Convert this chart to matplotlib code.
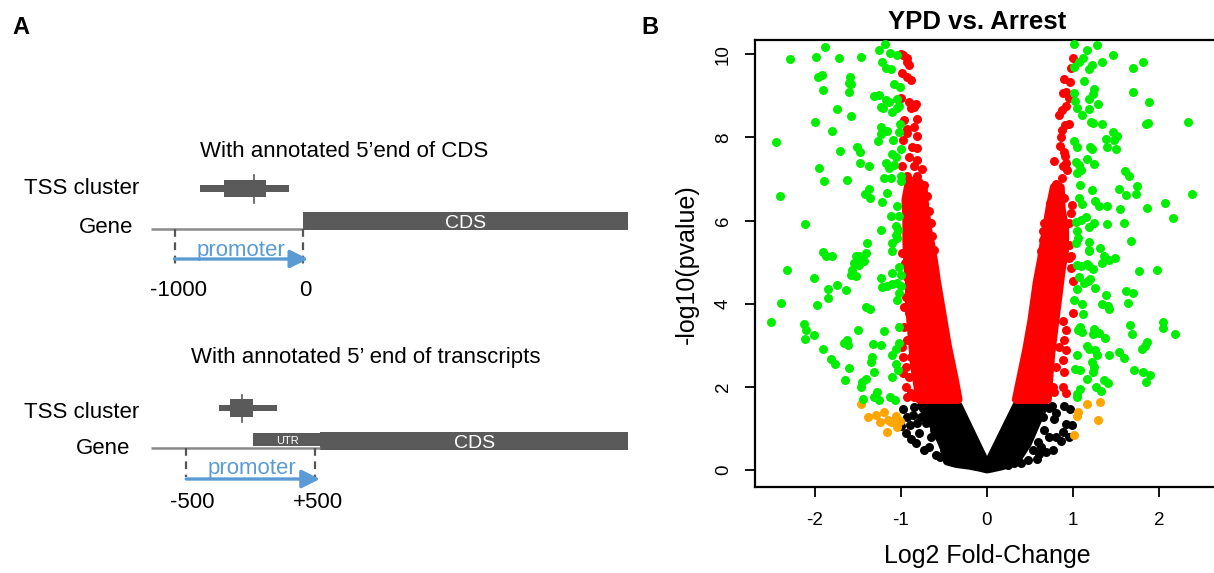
import matplotlib
matplotlib.use("Agg")
import matplotlib.pyplot as plt
from matplotlib.patches import Rectangle, Polygon

plt.rcParams['font.family'] = ['Liberation Sans', 'DejaVu Sans']
plt.rcParams['axes.unicode_minus'] = False

# ---------------- Panel A data (gene models, in bp) ----------------
top_title = "With annotated 5\u2019end of CDS"
top_gene_start = -1180
top_cds = (0, 2530)
top_promoter = (-1000, 0)
top_tss_thin = (-800, -110)
top_tss_thick = (-615, -290)
top_tss_peak = -380
top_tick_labels = ["-1000", "0"]

bot_title = "With annotated 5\u2019 end of transcripts"
bot_gene_start = -775
bot_utr = (20, 540)
bot_cds = (540, 2940)
bot_promoter = (-500, 500)
bot_tss_thin = (-245, 205)
bot_tss_thick = (-160, 20)
bot_tss_peak = -65
bot_tick_labels = ["-500", "+500"]

# ---------------- Panel B data (log2 fold-change, -log10 p) ----------------
green_points = [
    (-1.881, 10.18), (-1.186, 10.25), (-2.287, 9.89), (-1.985, 9.92), (-1.711, 9.90), (-1.464, 9.93),
    (-1.255, 10.09), (-1.128, 10.02), (-1.039, 9.98), (-1.213, 9.82), (-1.174, 9.66), (-1.116, 9.64),
    (-1.958, 9.44), (-1.908, 9.50), (-1.587, 9.45), (-1.595, 9.30), (-1.572, 9.28), (-1.603, 9.09),
    (-1.896, 9.14), (-1.078, 9.28), (-1.008, 9.22), (-1.309, 9.00), (-1.251, 9.02), (-1.174, 8.90),
    (-1.136, 8.86), (-1.039, 8.93), (-1.232, 8.74), (-1.201, 8.70), (-1.097, 8.60), (-1.039, 8.70),
    (-1.020, 8.76), (-1.742, 8.69), (-1.580, 8.52), (-1.997, 8.37), (-1.796, 8.16), (-1.232, 8.26),
    (-1.155, 8.16), (-1.224, 8.08), (-1.008, 8.31), (-1.016, 8.13), (-2.449, 7.89), (-1.259, 7.91),
    (-1.089, 7.94), (-1.707, 7.68), (-1.503, 7.76), (-1.472, 7.64), (-1.097, 7.60), (-1.058, 7.54),
    (-1.000, 7.72), (-1.951, 7.26), (-1.472, 7.39), (-1.367, 7.32), (-1.174, 7.38), (-1.136, 7.26),
    (-1.078, 7.34), (-1.889, 6.95), (-1.626, 6.98), (-1.194, 7.02), (-1.116, 7.02), (-1.000, 7.06),
    (-1.000, 6.94), (-2.399, 6.60), (-1.367, 6.75), (-1.418, 6.63), (-1.356, 6.54), (-1.163, 6.66),
    (-1.213, 6.44), (-1.039, 6.34), (-1.116, 6.12), (-1.020, 6.10), (-2.113, 5.92), (-1.232, 5.78),
    (-1.058, 5.86), (-1.031, 5.78), (-1.058, 5.66), (-1.039, 5.58), (-1.097, 5.46), (-1.394, 5.47),
    (-1.900, 5.24), (-1.869, 5.14), (-1.792, 5.16), (-1.522, 5.16), (-1.483, 5.14), (-1.406, 5.22),
    (-1.097, 5.26),
    (-2.321, 4.81), (-2.005, 4.62), (-1.839, 4.36), (-1.742, 4.44), (-1.638, 4.33), (-1.842, 4.13),
    (-1.966, 3.98), (-2.391, 4.02), (-2.499, 3.56), (-2.121, 3.51), (-2.101, 3.37), (-2.113, 3.15),
    (-2.005, 3.24), (-1.900, 2.92), (-1.804, 2.67), (-1.765, 2.56), (-1.657, 3.05), (-1.618, 3.13),
    (-1.607, 3.00), (-1.595, 2.45), (-1.645, 2.16), (-1.491, 3.36), (-1.406, 3.92), (-1.356, 3.87),
    (-1.194, 3.35), (-1.321, 3.03), (-1.228, 3.00), (-1.336, 2.73), (-1.348, 2.60), (-1.309, 2.36),
    (-1.445, 2.11), (-1.456, 2.01), (-1.398, 2.19), (-1.433, 1.71), (-1.309, 1.77), (-1.278, 1.87),
    (-1.255, 1.69), (-1.124, 1.77), (-1.070, 1.69), (-1.097, 2.25), (-1.027, 2.41), (-1.058, 2.56),
    (-1.105, 2.76), (-1.058, 2.92), (-1.020, 3.05), (-1.020, 3.44), (-1.039, 4.09), (-1.020, 4.26),
    (-1.000, 4.42), (-1.213, 4.40), (-1.155, 4.43), (-1.097, 4.47), (-1.039, 4.49), (-1.224, 4.61),
    (-1.097, 4.75), (-1.000, 4.70), (-1.016, 4.88), (-1.541, 4.98), (-1.560, 4.81), (-1.580, 4.69),
    (-1.518, 4.68), (-1.483, 4.94), (-1.445, 5.06), (-1.425, 5.02),
    (1.008, 10.25), (1.278, 10.22), (1.155, 10.10), (1.464, 9.97), (1.109, 9.90), (1.070, 9.82),
    (1.217, 9.74), (1.186, 9.64), (1.333, 9.80), (1.012, 9.69), (1.696, 9.66), (1.811, 9.81),
    (1.128, 9.36), (1.236, 9.16), (1.232, 9.05), (1.012, 9.07), (1.688, 9.09), (1.881, 8.86),
    (1.178, 8.92), (1.024, 8.88), (1.290, 8.81), (1.039, 8.71), (1.178, 8.68), (1.097, 8.53),
    (1.201, 8.37), (1.232, 8.35), (1.333, 8.31), (1.842, 8.33), (1.869, 8.34), (2.333, 8.38),
    (1.464, 8.13), (1.503, 8.04), (1.475, 7.94), (1.379, 7.96), (1.387, 7.78), (1.499, 7.73),
    (1.012, 7.91), (1.039, 7.78), (1.197, 7.78), (1.213, 7.72), (1.031, 7.41), (1.062, 7.33),
    (1.089, 7.22), (1.039, 7.14), (1.159, 7.49), (1.240, 7.36), (1.603, 7.19), (1.645, 7.06),
    (1.081, 6.86), (1.217, 6.74), (1.526, 6.77), (1.607, 6.62), (1.738, 6.82), (1.727, 6.64),
    (2.372, 6.65), (1.070, 6.54), (1.101, 6.39), (1.255, 6.48), (1.294, 6.35), (1.394, 6.34),
    (1.537, 6.28), (1.850, 6.30), (2.059, 6.42), (2.155, 6.07), (1.031, 5.97), (1.089, 6.02),
    (1.143, 6.08), (1.186, 5.85), (1.244, 5.94), (1.394, 5.92), (1.591, 5.95), (1.039, 5.74),
    (1.054, 5.58), (1.178, 5.49), (1.186, 5.30), (1.306, 5.34), (1.669, 5.51), (1.031, 5.45),
    (1.186, 5.27), (1.360, 5.14), (1.410, 5.06), (1.487, 5.10), (1.329, 4.99), (1.039, 4.94),
    (1.089, 4.90), (1.155, 4.96), (1.186, 4.90), (1.224, 4.84), (1.757, 4.78), (1.974, 4.81),
    (1.070, 4.64), (1.128, 4.49), (1.174, 4.55), (1.197, 4.59), (1.039, 4.35), (1.251, 4.37),
    (1.611, 4.30), (1.688, 4.27), (1.379, 4.20), (1.004, 4.09), (1.105, 3.99), (1.336, 3.99),
    (1.398, 3.95), (1.418, 3.87), (1.638, 4.01), (1.109, 3.75), (1.657, 3.50), (1.680, 3.27),
    (2.043, 3.56), (2.036, 3.41), (2.178, 3.28), (1.078, 3.44), (1.101, 3.33), (1.058, 3.38),
    (1.240, 3.40), (1.224, 3.27), (1.302, 3.29), (1.367, 3.19), (1.850, 3.08), (1.827, 2.98),
    (1.796, 2.92), (1.155, 2.99), (1.186, 2.92), (1.248, 2.89), (1.275, 2.76), (1.410, 2.76),
    (1.526, 2.84), (1.584, 2.69), (1.043, 2.76), (1.221, 2.59), (1.244, 2.49), (1.232, 2.36),
    (1.024, 2.43), (1.074, 2.40), (1.707, 2.41), (1.811, 2.36), (1.893, 2.30), (1.846, 2.11),
    (1.163, 2.20), (1.360, 2.16), (1.398, 2.09), (1.263, 2.01), (1.321, 1.91), (1.081, 1.95),
    (1.047, 1.83), (1.039, 1.77),
]

red_points = [
    (-1.000, 10.00), (-0.930, 9.90), (-0.969, 9.98), (-0.923, 9.82), (-0.904, 9.74), (-0.981, 9.54),
    (-0.923, 9.46), (-0.885, 9.38), (-0.993, 8.94), (-0.904, 8.86), (-0.885, 8.70), (-0.846, 8.74),
    (-0.827, 8.81), (-0.962, 8.42), (-0.807, 8.44), (-0.923, 8.20), (-0.846, 8.24), (-0.815, 8.04),
    (-0.969, 7.94), (-0.923, 8.10), (-0.865, 7.78), (-0.807, 7.74), (-0.904, 7.54), (-0.815, 7.46),
    (-0.981, 7.30), (-0.846, 7.30), (-0.749, 7.23), (-0.923, 7.06), (-0.807, 7.06), (-0.730, 6.86),
    (-0.691, 6.58), (-0.672, 6.22), (-0.653, 5.94), (-0.633, 5.62), (-0.614, 5.30),
    (-0.962, 3.45), (-0.923, 3.13), (-0.969, 2.73), (-0.885, 2.73), (-0.942, 2.49), (-0.969, 2.33),
    (-0.904, 2.25), (-0.942, 2.01), (-0.885, 1.85), (-0.931, 1.77), (-0.846, 1.77), (-0.981, 5.22),
    (-0.954, 4.98), (-0.923, 4.65), (-0.942, 4.17), (-0.962, 3.93), (-0.904, 3.77), (-0.980, 2.97),
    (-0.788, 2.13), (-0.711, 2.09),
    (0.993, 9.90), (0.973, 9.66), (0.896, 9.41), (0.966, 9.32), (0.877, 9.06), (0.915, 9.08),
    (0.954, 8.94), (0.915, 8.76), (0.869, 8.66), (0.838, 8.54), (0.954, 8.32), (0.908, 8.30),
    (0.869, 8.18), (0.857, 8.00), (0.846, 7.80), (0.896, 7.64), (0.904, 7.56), (0.780, 7.43),
    (0.880, 7.30), (0.931, 7.22), (0.911, 7.38), (0.869, 7.02), (0.800, 6.88), (0.784, 6.78),
    (0.838, 6.66), (0.896, 6.54), (0.730, 6.43), (0.742, 6.26), (0.985, 6.38), (0.973, 6.18),
    (0.761, 6.10), (0.664, 5.94), (0.800, 5.94), (0.645, 5.74), (0.954, 5.94), (0.838, 5.78),
    (0.877, 5.45), (0.653, 5.53), (0.800, 5.38), (0.954, 5.42), (0.626, 5.26), (0.973, 5.14),
    (0.993, 4.54), (1.000, 3.79), (0.877, 3.59), (0.915, 3.37), (0.896, 3.13), (0.838, 2.97),
    (0.915, 2.89), (0.877, 2.65), (0.800, 2.49), (0.896, 2.37), (0.761, 2.01), (0.885, 2.01),
    (0.780, 1.89), (0.915, 1.85), (0.954, 5.10), (0.973, 4.85),
]

black_points = [
    (-0.969, 1.47), (-0.923, 1.29), (-0.892, 1.09), (-0.993, 1.06), (-0.807, 1.13), (-0.854, 1.33),
    (-0.769, 1.27), (-0.942, 0.90), (-0.885, 0.74), (-0.827, 0.65), (-0.788, 0.90), (-0.711, 1.13),
    (-0.730, 0.49), (-0.672, 0.57), (-0.653, 0.81), (-0.595, 0.37), (-0.545, 0.33), (-0.614, 0.97),
    (-0.498, 0.49), (-0.452, 0.25), (-0.653, 1.37), (-0.537, 1.45), (-0.730, 1.53), (-0.846, 1.53),
    (-0.595, 1.25), (-0.518, 0.73),
    (0.753, 1.55), (0.896, 1.55), (0.962, 1.47), (0.722, 1.49), (0.780, 1.23), (0.915, 1.11),
    (0.985, 1.09), (0.877, 0.93), (0.800, 0.81), (0.857, 0.70), (0.761, 0.49), (0.684, 0.45),
    (0.606, 0.39), (0.575, 0.26), (0.471, 0.25), (0.394, 0.18), (0.664, 0.97), (0.722, 0.81),
    (0.587, 0.69), (0.645, 1.29), (0.800, 1.37), (0.954, 0.81), (0.626, 0.57), (0.529, 0.49),
    (0.317, 0.17), (0.239, 0.13),
]

orange_points = [
    (-1.456, 1.59), (-1.379, 1.27), (-1.286, 1.33), (-1.240, 1.15), (-1.194, 1.41), (-1.147, 1.21),
    (-1.116, 1.17), (-1.058, 1.31), (-1.008, 1.18), (-1.047, 1.03), (-1.163, 0.93),
    (1.159, 1.59), (1.309, 1.63), (1.054, 1.41), (1.047, 1.31), (1.290, 1.21), (1.008, 0.84),
]

# dense cores of the point cloud (outline of the overlapping point centres)
red_core_left = [
    (-0.335, 1.70), (-0.38, 2.2), (-0.46, 3.0), (-0.525, 3.8), (-0.59, 4.6), (-0.61, 4.9),
    (-0.65, 5.4), (-0.68, 5.7), (-0.72, 6.3), (-0.74, 6.8), (-0.80, 6.95), (-0.90, 6.95),
    (-0.94, 6.5), (-0.93, 6.0), (-0.93, 5.5), (-0.92, 5.0), (-0.90, 4.5), (-0.90, 4.0),
    (-0.88, 3.5), (-0.86, 3.0), (-0.84, 2.5), (-0.80, 2.0), (-0.78, 1.70),
]
red_core_right = [
    (0.34, 1.70), (0.40, 2.3), (0.46, 2.9), (0.52, 3.6), (0.58, 4.5), (0.63, 5.05), (0.68, 5.7),
    (0.73, 6.3), (0.78, 6.8), (0.85, 6.8), (0.86, 6.3), (0.90, 5.8), (0.90, 5.3), (0.86, 4.8),
    (0.83, 4.3), (0.80, 3.8), (0.77, 3.3), (0.74, 2.8), (0.72, 2.3), (0.70, 1.70),
]
black_core = [
    (-0.76, 1.55), (-0.335, 1.55), (0.0, 0.10), (0.345, 1.55), (0.66, 1.55), (0.57, 1.13),
    (0.47, 0.65), (0.37, 0.33), (0.28, 0.17), (0.16, 0.10), (0.05, 0.05), (0.0, 0.03),
    (-0.08, 0.07), (-0.20, 0.12), (-0.35, 0.16), (-0.46, 0.22), (-0.48, 0.45), (-0.53, 0.70),
    (-0.60, 1.00), (-0.68, 1.30),
]

x_ticks = [-2, -1, 0, 1, 2]
y_ticks = [0, 2, 4, 6, 8, 10]

# ---------------- figure ----------------
W, H = 1214, 573
fig = plt.figure(figsize=(W / 100, H / 100), dpi=100)


def px_axes(x0, y0, x1, y1):
    return fig.add_axes([x0 / W, 1 - y1 / H, (x1 - x0) / W, (y1 - y0) / H])


DARK = '#5a5a5a'
LINE = '#8a8a8a'
BLUE = '#5b9bd5'
PX_PER_BP = 0.1285


def gene_axes(y0, y1, zero_px):
    ax = px_axes(0, y0, 640, y1)
    ax.set_xlim(-zero_px / PX_PER_BP, (640 - zero_px) / PX_PER_BP)
    ax.set_ylim(y1, y0)
    ax.axis('off')
    return ax


def draw_tss(ax, y, thin, thick, peak, h_thin, h_thick, h_peak):
    ax.add_patch(Rectangle((thin[0], y - h_thin / 2), thin[1] - thin[0], h_thin, color=DARK, lw=0))
    ax.add_patch(Rectangle((thick[0], y - h_thick / 2), thick[1] - thick[0], h_thick, color=DARK, lw=0))
    ax.plot([peak, peak], [y - h_peak / 2, y + h_peak / 2], color=DARK, lw=1.2)


def draw_promoter(ax, prom, y_line, y_dash_end, y_arrow, y_text, y_lab, labels, lab_off):
    for xp in prom:
        ax.plot([xp, xp], [y_line, y_dash_end], color='#555555', lw=1.6, ls=(0, (3.5, 2.5)))
    ax.annotate('', xy=(prom[1] + 40, y_arrow), xytext=(prom[0], y_arrow),
                arrowprops=dict(arrowstyle='-|>,head_length=1.1,head_width=0.55', color=BLUE,
                                lw=2.4, shrinkA=0, shrinkB=0))
    ax.text((prom[0] + prom[1]) / 2 + 15, y_text, 'promoter', color=BLUE, fontsize=16,
            ha='center', va='baseline')
    for xp, lab, off in zip(prom, labels, lab_off):
        ax.text(xp + off, y_lab, lab, fontsize=16, ha='center', va='baseline')


# --- top diagram ---
axt = gene_axes(120, 310, 303)
axt.text(320, 157, top_title, fontsize=16, ha='center', va='baseline')
axt.text(-2170, 194, 'TSS cluster', fontsize=16, ha='left', va='baseline')
axt.text(-1320, 233, 'Gene', fontsize=16, ha='right', va='baseline')
draw_tss(axt, 188.5, top_tss_thin, top_tss_thick, top_tss_peak, 6.5, 17, 28)
axt.plot([top_gene_start, 0], [229, 229], color=LINE, lw=1.8, solid_capstyle='butt')
axt.add_patch(Rectangle((top_cds[0], 212), top_cds[1] - top_cds[0], 18, color=DARK, lw=0))
axt.text(sum(top_cds) / 2, 228, 'CDS', color='white', fontsize=14, ha='center', va='baseline')
draw_promoter(axt, top_promoter, 229, 267, 259, 256, 296, top_tick_labels, (30, 20))

# --- bottom diagram ---
axb = gene_axes(330, 520, 250.5)
axb.text(900, 362.5, bot_title, fontsize=16, ha='center', va='baseline')
axb.text(-1760, 418, 'TSS cluster', fontsize=16, ha='left', va='baseline')
axb.text(-935, 453.5, 'Gene', fontsize=16, ha='right', va='baseline')
draw_tss(axb, 408, bot_tss_thin, bot_tss_thick, bot_tss_peak, 6.5, 18, 27)
axb.plot([bot_gene_start, bot_utr[1]], [448, 448], color=LINE, lw=1.8, solid_capstyle='butt')
axb.add_patch(Rectangle((bot_utr[0], 433), bot_utr[1] - bot_utr[0], 13, color=DARK, lw=0))
axb.add_patch(Rectangle((bot_cds[0], 432), bot_cds[1] - bot_cds[0], 18, color=DARK, lw=0))
axb.text(sum(bot_utr) / 2 + 10, 444, 'UTR', color='white', fontsize=8, ha='center', va='baseline')
axb.text(sum(bot_cds) / 2, 447.5, 'CDS', color='white', fontsize=14, ha='center', va='baseline')
draw_promoter(axb, bot_promoter, 448, 477, 479, 474, 508.5, bot_tick_labels, (45, 25))

fig.text(21 / W, 1 - 27 / H, 'A', fontsize=17, fontweight='bold', ha='center', va='center')
fig.text(650 / W, 1 - 27 / H, 'B', fontsize=17, fontweight='bold', ha='center', va='center')

# ---------------- volcano ----------------
ax = px_axes(755, 40, 1219, 487.3)
ax.set_xlim(-2.69, 2.69)
ax.set_ylim(-0.41, 10.34)

DOT = 42
ax.add_patch(Polygon(black_core, closed=True, facecolor='black', edgecolor='black', lw=6.4,
                     joinstyle='round', zorder=1))
ax.scatter([p[0] for p in black_points], [p[1] for p in black_points], s=DOT, c='black',
           linewidths=0, zorder=2)
for core in (red_core_left, red_core_right):
    ax.add_patch(Polygon(core, closed=True, facecolor='#ff0000', edgecolor='#ff0000', lw=6.4,
                         joinstyle='round', zorder=3))
ax.scatter([p[0] for p in red_points], [p[1] for p in red_points], s=DOT, c='#ff0000',
           linewidths=0, zorder=4)
ax.scatter([p[0] for p in orange_points], [p[1] for p in orange_points], s=DOT, c='#ffa500',
           linewidths=0, zorder=5)
ax.scatter([p[0] for p in green_points], [p[1] for p in green_points], s=DOT, c='#00ee00',
           linewidths=0, zorder=6)

for sp in ax.spines.values():
    sp.set_linewidth(1.6)
ax.set_xticks(x_ticks)
ax.set_yticks(y_ticks)
ax.set_xticklabels([str(t) for t in x_ticks])
ax.set_yticklabels([str(t) for t in y_ticks], rotation=90, va='center')
ax.tick_params(axis='both', direction='out', length=7.5, width=1.3, labelsize=13.5)
ax.tick_params(axis='x', pad=10)
ax.tick_params(axis='y', pad=9)
ax.set_xlabel('Log2 Fold-Change', fontsize=18, labelpad=11)
ax.set_ylabel('-log10(pvalue)', fontsize=18, labelpad=12)
ax.set_title('YPD vs. Arrest', fontsize=18.5, fontweight='bold', pad=8, x=0.478)

fig.savefig('out.png', dpi=100)
